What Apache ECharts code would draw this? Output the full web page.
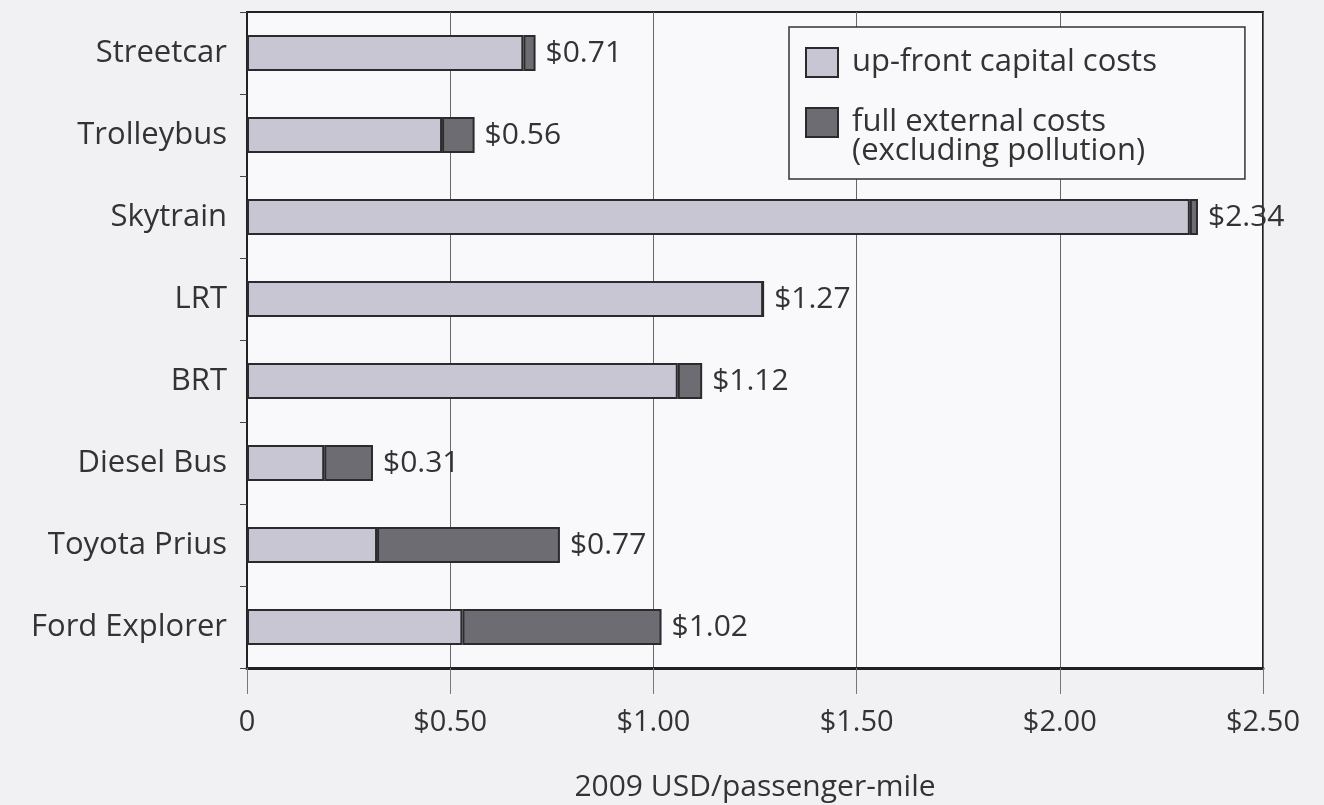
<!DOCTYPE html>
<html>
<head>
<meta charset="utf-8">
<script src="https://cdn.jsdelivr.net/npm/echarts@6/dist/echarts.min.js"></script>
<style>
  body {
    margin: 0 0 0 0;
    background: #f1f0f3;
  }

  #Graph {
    width: 1324px;
    height: 805px;
  }
</style>
</head>
<body>
<div id="Graph"></div>
<script>
    // 车型（从上到下）
    const modes = ['Streetcar', 'Trolleybus', 'Skytrain', 'LRT', 'BRT', 'Diesel Bus', 'Toyota Prius', 'Ford Explorer'];
    // 前期资本成本
    const capitalCosts = [0.68, 0.48, 2.32, 1.27, 1.06, 0.19, 0.32, 0.53];
    // 全部外部成本（不含污染）
    const externalCosts = [0.03, 0.08, 0.02, 0, 0.06, 0.12, 0.45, 0.49];
    // 柱子末端标注的总额
    const totals = ['$0.71', '$0.56', '$2.34', '$1.27', '$1.12', '$0.31', '$0.77', '$1.02'];
    const tickLabels = {0: '0', 0.5: '$0.50', 1: '$1.00', 1.5: '$1.50', 2: '$2.00', 2.5: '$2.50'};
    const legendNames = ['up-front capital costs', 'full external costs'];

    const font = '"Open Sans", sans-serif';
    let DrawChart = echarts.init(document.getElementById('Graph'));

    let option = {
        backgroundColor: '#f1f0f3',
        animation: false,
        textStyle: {fontFamily: font, color: '#333'},
        grid: {
            left: 247,
            right: 61,
            top: 12,
            bottom: 137,
            outerBoundsMode: 'none',
            show: true,
            backgroundColor: '#f9f8fa',
            borderColor: '#222',
            borderWidth: 2
        },
        legend: {
            orient: 'vertical',
            left: 789,
            top: 27,
            padding: [20, 88, 12, 16],
            icon: 'rect',
            itemWidth: 32,
            itemHeight: 29,
            itemGap: 0,
            borderColor: '#333',
            borderWidth: 1.5,
            backgroundColor: '#f9f8fa',
            textStyle: {fontFamily: font, fontSize: 31, color: '#333', lineHeight: 29, padding: [0, 0, 0, 9]},
            data: [legendNames[0], legendNames[1]],
            formatter: function (name) {
                // 第二项两行文字，前面加一空行让图标对齐第一行
                if (name === legendNames[1]) {
                    return ' \nfull external costs\n(excluding pollution)';
                }
                return name;
            }
        },
        xAxis: {
            type: 'value',
            min: 0,
            max: 2.5,
            interval: 0.5,
            name: '2009 USD/passenger-mile',
            nameLocation: 'middle',
            nameGap: 104,
            nameTextStyle: {fontFamily: font, fontSize: 30, color: '#333'},
            axisLine: {show: true, lineStyle: {color: '#222', width: 3}},
            axisTick: {show: true, length: 26, lineStyle: {color: '#777', width: 1}},
            axisLabel: {
                fontFamily: font,
                fontSize: 29,
                color: '#333',
                margin: 40,
                formatter: function (v) {
                    return tickLabels[v];
                }
            },
            splitLine: {show: true, lineStyle: {color: '#666', width: 1}}
        },
        yAxis: {
            type: 'category',
            inverse: true,
            data: modes,
            axisLine: {show: true, lineStyle: {color: '#222', width: 2}},
            axisTick: {show: true, alignWithLabel: false, length: 7, lineStyle: {color: '#444'}},
            axisLabel: {fontFamily: font, fontSize: 31, color: '#333', margin: 20}
        },
        series: [
            {
                name: legendNames[0],
                type: 'bar',
                stack: 'cost',
                barWidth: 36,
                data: capitalCosts,
                itemStyle: {color: '#c8c6d3', borderColor: '#2b2b2e', borderWidth: 2}
            },
            {
                name: legendNames[1],
                type: 'bar',
                stack: 'cost',
                barWidth: 36,
                data: externalCosts,
                itemStyle: {color: '#6c6c72', borderColor: '#2b2b2e', borderWidth: 2},
                label: {
                    show: true,
                    position: 'right',
                    distance: 10,
                    fontFamily: font,
                    fontSize: 30,
                    color: '#333',
                    formatter: function (p) {
                        return totals[p.dataIndex];
                    }
                }
            }
        ]
    };
    DrawChart.setOption(option);
</script>
</body>
</html>
